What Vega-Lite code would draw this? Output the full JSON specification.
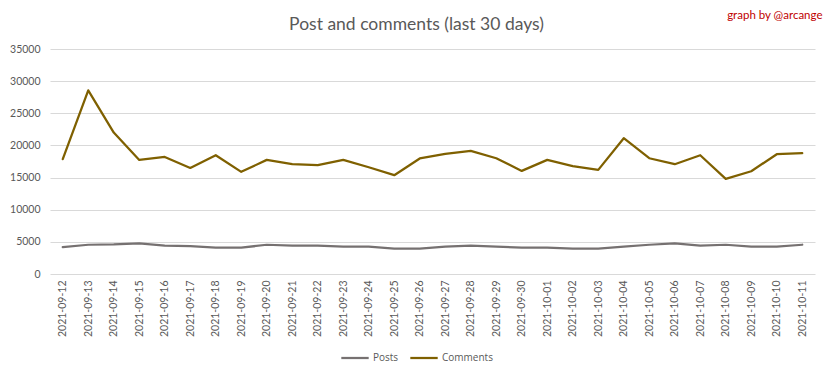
{
  "$schema": "https://vega.github.io/schema/vega-lite/v6.json",
  "autosize": {"type": "none"},
  "width": 765,
  "height": 225,
  "padding": {"left": 50, "top": 49, "right": 17, "bottom": 104},
  "background": "white",
  "title": {
    "text": "Post and comments (last 30 days)",
    "anchor": "middle",
    "font": "Lato",
    "fontSize": 17.5,
    "fontWeight": "normal",
    "color": "#595959",
    "offset": 16,
    "dx": -16,
    "dy": 40
  },
  "data": {
    "values": [
      {"date": "2021-09-12", "series": "Posts", "value": 4190},
      {"date": "2021-09-13", "series": "Posts", "value": 4550},
      {"date": "2021-09-14", "series": "Posts", "value": 4600},
      {"date": "2021-09-15", "series": "Posts", "value": 4760},
      {"date": "2021-09-16", "series": "Posts", "value": 4400},
      {"date": "2021-09-17", "series": "Posts", "value": 4350},
      {"date": "2021-09-18", "series": "Posts", "value": 4090},
      {"date": "2021-09-19", "series": "Posts", "value": 4090},
      {"date": "2021-09-20", "series": "Posts", "value": 4550},
      {"date": "2021-09-21", "series": "Posts", "value": 4400},
      {"date": "2021-09-22", "series": "Posts", "value": 4400},
      {"date": "2021-09-23", "series": "Posts", "value": 4250},
      {"date": "2021-09-24", "series": "Posts", "value": 4250},
      {"date": "2021-09-25", "series": "Posts", "value": 3930},
      {"date": "2021-09-26", "series": "Posts", "value": 3930},
      {"date": "2021-09-27", "series": "Posts", "value": 4250},
      {"date": "2021-09-28", "series": "Posts", "value": 4400},
      {"date": "2021-09-29", "series": "Posts", "value": 4250},
      {"date": "2021-09-30", "series": "Posts", "value": 4090},
      {"date": "2021-10-01", "series": "Posts", "value": 4090},
      {"date": "2021-10-02", "series": "Posts", "value": 3930},
      {"date": "2021-10-03", "series": "Posts", "value": 3930},
      {"date": "2021-10-04", "series": "Posts", "value": 4250},
      {"date": "2021-10-05", "series": "Posts", "value": 4550},
      {"date": "2021-10-06", "series": "Posts", "value": 4760},
      {"date": "2021-10-07", "series": "Posts", "value": 4400},
      {"date": "2021-10-08", "series": "Posts", "value": 4550},
      {"date": "2021-10-09", "series": "Posts", "value": 4250},
      {"date": "2021-10-10", "series": "Posts", "value": 4250},
      {"date": "2021-10-11", "series": "Posts", "value": 4550},
      {"date": "2021-09-12", "series": "Comments", "value": 17860},
      {"date": "2021-09-13", "series": "Comments", "value": 28570},
      {"date": "2021-09-14", "series": "Comments", "value": 22000},
      {"date": "2021-09-15", "series": "Comments", "value": 17750},
      {"date": "2021-09-16", "series": "Comments", "value": 18210},
      {"date": "2021-09-17", "series": "Comments", "value": 16500},
      {"date": "2021-09-18", "series": "Comments", "value": 18480},
      {"date": "2021-09-19", "series": "Comments", "value": 15890},
      {"date": "2021-09-20", "series": "Comments", "value": 17750},
      {"date": "2021-09-21", "series": "Comments", "value": 17080},
      {"date": "2021-09-22", "series": "Comments", "value": 16930},
      {"date": "2021-09-23", "series": "Comments", "value": 17750},
      {"date": "2021-09-24", "series": "Comments", "value": 16610},
      {"date": "2021-09-25", "series": "Comments", "value": 15370},
      {"date": "2021-09-26", "series": "Comments", "value": 17970},
      {"date": "2021-09-27", "series": "Comments", "value": 18700},
      {"date": "2021-09-28", "series": "Comments", "value": 19150},
      {"date": "2021-09-29", "series": "Comments", "value": 18010},
      {"date": "2021-09-30", "series": "Comments", "value": 16040},
      {"date": "2021-10-01", "series": "Comments", "value": 17750},
      {"date": "2021-10-02", "series": "Comments", "value": 16770},
      {"date": "2021-10-03", "series": "Comments", "value": 16200},
      {"date": "2021-10-04", "series": "Comments", "value": 21120},
      {"date": "2021-10-05", "series": "Comments", "value": 18010},
      {"date": "2021-10-06", "series": "Comments", "value": 17080},
      {"date": "2021-10-07", "series": "Comments", "value": 18480},
      {"date": "2021-10-08", "series": "Comments", "value": 14800},
      {"date": "2021-10-09", "series": "Comments", "value": 15990},
      {"date": "2021-10-10", "series": "Comments", "value": 18630},
      {"date": "2021-10-11", "series": "Comments", "value": 18790}
    ]
  },
  "layer": [
    {
      "mark": {"type": "line", "strokeWidth": 2.25, "strokeJoin": "round", "strokeCap": "round"},
      "encoding": {
        "x": {
          "field": "date",
          "type": "ordinal",
          "scale": {"type": "point", "padding": 0.5},
          "axis": {
            "title": null,
            "labelAngle": -90,
            "labelFont": "Lato",
            "labelFontSize": 10.5,
            "labelColor": "#595959",
            "labelPadding": 6,
            "ticks": false,
            "domain": false,
            "grid": false
          }
        },
        "y": {
          "field": "value",
          "type": "quantitative",
          "scale": {"domain": [0, 35000], "nice": false},
          "axis": {
            "title": null,
            "values": [0, 5000, 10000, 15000, 20000, 25000, 30000, 35000],
            "format": "d",
            "labelOverlap": false,
            "labelFont": "Lato",
            "labelFontSize": 10.5,
            "labelColor": "#595959",
            "labelPadding": 10,
            "ticks": false,
            "domain": false,
            "gridColor": "#d9d9d9",
            "gridWidth": 1
          }
        },
        "color": {
          "field": "series",
          "type": "nominal",
          "scale": {"domain": ["Posts", "Comments"], "range": ["#767171", "#7f6000"]},
          "legend": {
            "title": null,
            "orient": "none",
            "legendX": 290,
            "legendY": 294,
            "direction": "horizontal",
            "padding": 0,
            "symbolType": "stroke",
            "symbolSize": 750,
            "symbolStrokeWidth": 2.25,
            "labelFont": "Open Sans",
            "labelFontSize": 10,
            "labelColor": "#595959",
            "labelOffset": 3,
            "columnPadding": 6
          }
        }
      }
    },
    {
      "mark": {"type": "line", "opacity": 0},
      "encoding": {
        "x": {
          "field": "date",
          "type": "ordinal",
          "scale": {"type": "point", "padding": 0.5},
          "axis": {
            "orient": "top",
            "title": "graph by @arcange",
            "titleFont": "Lato",
            "titleFontSize": 11.5,
            "titleFontWeight": "normal",
            "titleColor": "#c00000",
            "titleAnchor": "end",
            "titleAlign": "right",
            "titleX": 772,
            "titleY": -29,
            "labels": false,
            "ticks": false,
            "domain": false,
            "grid": false
          }
        },
        "y": {"field": "value", "type": "quantitative", "axis": null},
        "detail": {"field": "series"}
      }
    }
  ],
  "resolve": {"axis": {"x": "independent", "y": "independent"}},
  "config": {"view": {"stroke": null}}
}
